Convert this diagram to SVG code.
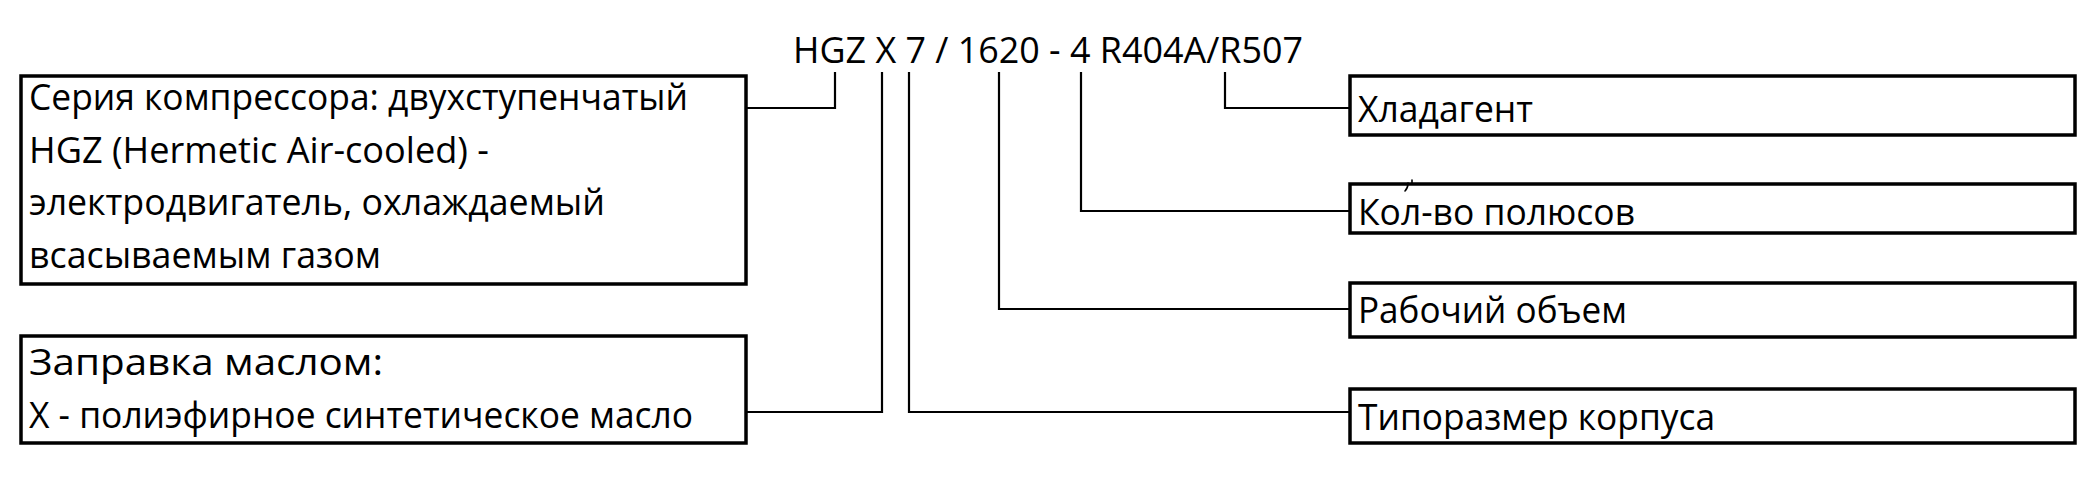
<svg xmlns="http://www.w3.org/2000/svg" width="2094" height="498" viewBox="0 0 2094 498">
<style>
.box{fill:#fff;stroke:#000;stroke-width:3.5}
.t{font-family:"Open Sans","Noto Sans","Liberation Sans",sans-serif;font-size:37px;fill:#000}
.c{fill:none;stroke:#000;stroke-width:2.2}
.mark{fill:none;stroke:#000;stroke-width:1.6;stroke-linecap:round}
</style>
<rect width="2094" height="498" fill="#fff"/>
<g id="title"><text class="t" x="793" y="63" textLength="510" lengthAdjust="spacingAndGlyphs">HGZ X 7 / 1620 - 4 R404A/R507</text></g>
<g id="connectors">
<path class="c" d="M746,108 H835 V72"/>
<path class="c" d="M882,72 V412 H746"/>
<path class="c" d="M909,72 V412 H1350"/>
<path class="c" d="M999,72 V309 H1350"/>
<path class="c" d="M1081,72 V211 H1350"/>
<path class="c" d="M1225,72 V108 H1350"/>
</g>
<g id="series">
<rect class="box" x="21" y="76" width="725" height="208"/>
<text class="t" x="29" y="110" textLength="659" lengthAdjust="spacingAndGlyphs">Серия компрессора: двухступенчатый</text>
<text class="t" x="29" y="163" textLength="460" lengthAdjust="spacingAndGlyphs">HGZ (Hermetic Air-cooled) -</text>
<text class="t" x="29" y="215" textLength="576" lengthAdjust="spacingAndGlyphs">электродвигатель, охлаждаемый</text>
<text class="t" x="29" y="268" textLength="352" lengthAdjust="spacingAndGlyphs">всасываемым газом</text>
</g>
<g id="oil">
<rect class="box" x="21" y="336" width="725" height="107"/>
<text class="t" x="29" y="375" textLength="354" lengthAdjust="spacingAndGlyphs">Заправка маслом:</text>
<text class="t" x="29" y="428" textLength="664" lengthAdjust="spacingAndGlyphs">X - полиэфирное синтетическое масло</text>
</g>
<g id="refrigerant">
<rect class="box" x="1350" y="76" width="725" height="59"/>
<text class="t" x="1358" y="122" textLength="175" lengthAdjust="spacingAndGlyphs">Хладагент</text>
</g>
<g id="poles">
<rect class="box" x="1350" y="184" width="725" height="49"/>
<text class="t" x="1358" y="225" textLength="277" lengthAdjust="spacingAndGlyphs">Кол-во полюсов</text>
<path class="mark" d="M1408,183 Q1408,188 1405,191 M1412,180 V184"/>
</g>
<g id="displacement">
<rect class="box" x="1350" y="283" width="725" height="54"/>
<text class="t" x="1358" y="323" textLength="269" lengthAdjust="spacingAndGlyphs">Рабочий объем</text>
</g>
<g id="size">
<rect class="box" x="1350" y="389" width="725" height="54"/>
<text class="t" x="1358" y="430" textLength="357" lengthAdjust="spacingAndGlyphs">Типоразмер корпуса</text>
</g>
</svg>
